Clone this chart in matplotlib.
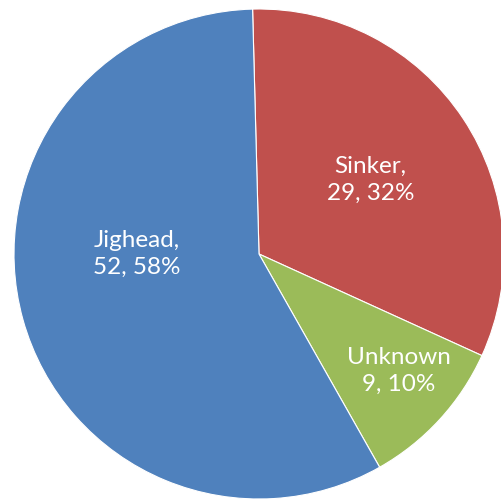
import matplotlib.pyplot as plt
import numpy as np

# lure types counted
categories = ["Sinker", "Unknown", "Jighead"]
counts = [29, 9, 52]
colors = ["#C0504D", "#9BBB59", "#4F81BD"]
label_seps = [",", "", ","]

# label spots as (angle in degrees, fraction of radius)
label_spots = [(34, 0.55), (-39.6, 0.74), (179.5, 0.50)]

W, H = 502, 502
fig = plt.figure(figsize=(W / 100, H / 100), dpi=100)

# pie centre and radius in pixels
cx, cy, r = 259, 255, 245
ax = fig.add_axes([(cx - r) / W, (H - cy - r) / H, 2 * r / W, 2 * r / H])

ax.pie(counts, colors=colors, startangle=91.5, counterclock=False,
       radius=1, wedgeprops=dict(edgecolor="white", linewidth=0.8))
ax.set_xlim(-1, 1)
ax.set_ylim(-1, 1)
ax.set_aspect("equal")
ax.axis("off")

total = sum(counts)
for name, sep, val, (ang, dist) in zip(categories, label_seps, counts, label_spots):
    pct = round(val / total * 100)
    a = np.radians(ang)
    ax.text(dist * np.cos(a), dist * np.sin(a), f"{name}{sep}\n{val}, {pct}%",
            ha="center", va="center", color="white", fontsize=17.5,
            family="Lato", linespacing=1.35)

fig.savefig("out.png", dpi=100)
